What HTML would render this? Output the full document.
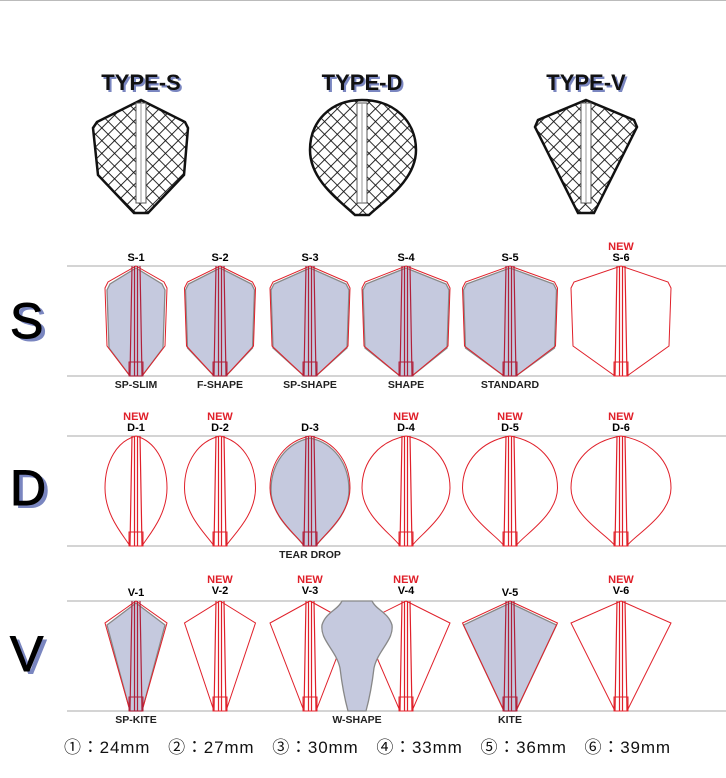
<!DOCTYPE html>
<html><head><meta charset="utf-8"><style>
body{margin:0;background:#fff;width:726px;height:773px;overflow:hidden;font-family:"Liberation Sans",sans-serif}
</style></head><body>
<svg id="s" width="726" height="773" xmlns="http://www.w3.org/2000/svg" font-family="Liberation Sans, sans-serif">
<defs>
<pattern id="hx" width="9" height="9" patternUnits="userSpaceOnUse" patternTransform="rotate(45)">
<rect width="9" height="9" fill="#fff"/><path d="M0 0H9M0 0V9" stroke="#111" stroke-width="1.8"/></pattern>
</defs>
<line x1="0" y1="0.5" x2="726" y2="0.5" stroke="#bbb"/>
<g id="g"></g>
</svg>
<script>
const g=document.getElementById('g');let h='';
const cx=[136,220,310,406,510,621],W=[62,71,80,88,95,100];
function shaft(c,t,b,f){let col=f?'#b0203a':'#e0202a';return `<path d="M${c-4} ${t}L${c-6} ${b}M${c+4} ${t}L${c+6} ${b}M${c-1.5} ${t}V${b}M${c+1.5} ${t}V${b}" stroke="${col}" stroke-width="1.2" fill="none"/><rect x="${c-7}" y="${b-14}" width="14" height="14" fill="none" stroke="${col}" stroke-width="1"/>`}
function sP(c,w,t,b){let x=w/2;return `M${c} ${t}L${c+x-3} ${t+16}L${c+x} ${t+22}L${c+x-2} ${t+80}L${c+6} ${b}L${c-6} ${b}L${c-x+2} ${t+80}L${c-x} ${t+22}L${c-x+3} ${t+16}Z`}
function dP(c,w,t,b){let x=w/2;return `M${c} ${t}C${c+x*0.6} ${t+5} ${c+x} ${t+25} ${c+x} ${t+52}C${c+x} ${t+80} ${c+12} ${b-10} ${c+6} ${b}L${c-6} ${b}C${c-12} ${b-10} ${c-x} ${t+80} ${c-x} ${t+52}C${c-x} ${t+25} ${c-x*0.6} ${t+5} ${c} ${t}Z`}
function vP(c,w,t,b){let x=w/2;return `M${c} ${t}L${c+x} ${t+22}L${c+6} ${b}L${c-6} ${b}L${c-x} ${t+22}Z`}
const rows=[{t:266,b:376,f:sP,k:'S',lab:['S-1','S-2','S-3','S-4','S-5','S-6'],nw:[0,0,0,0,0,1],nm:['SP-SLIM','F-SHAPE','SP-SHAPE','SHAPE','STANDARD',''],fill:[1,1,1,1,1,0],L:325},
{t:436,b:546,f:dP,k:'D',lab:['D-1','D-2','D-3','D-4','D-5','D-6'],nw:[1,1,0,1,1,1],nm:['','','TEAR DROP','','',''],fill:[0,0,1,0,0,0],L:492},
{t:601,b:711,f:vP,k:'V',lab:['V-1','V-2','V-3','V-4','V-5','V-6'],nw:[0,1,1,1,0,1],nm:['SP-KITE','','W-SHAPE','','KITE',''],fill:[1,0,0,0,1,0],L:658}];
rows.forEach((r,ri)=>{
h+=`<line x1="67" y1="${r.t}" x2="726" y2="${r.t}" stroke="#aaa"/><line x1="67" y1="${r.b}" x2="726" y2="${r.b}" stroke="#aaa"/>`;
h+=`<text x="14" y="${r.L+16}" font-size="50" fill="#7a86c0">${r.k}</text><text x="10" y="${r.L+13}" font-size="50" fill="#000" stroke="#000" stroke-width="1">${r.k}</text>`;
cx.forEach((c,i)=>{
 if(r.fill[i]){let sw=i==0?W[i]-4:W[i]-2;h+=`<path d="${r.f(c,sw,r.t+2,r.b)}" fill="#c5c9de" stroke="#888" stroke-width="1.3"/>`}
 h+=`<path d="${r.f(c,W[i],r.t,r.b)}" fill="none" stroke="#e0202a" stroke-width="1"/>`;
 h+=shaft(c,r.t,r.b,r.fill[i]);
 let ly=r.t-5;if(ri==2&&r.nw[i])ly=r.t-7;
 h+=`<text x="${c}" y="${ly}" font-size="11" font-weight="bold" text-anchor="middle">${r.lab[i]}</text>`;
 if(r.nw[i])h+=`<text x="${c}" y="${ly-11}" font-size="11" font-weight="bold" fill="#e0202a" text-anchor="middle">NEW</text>`;
 if(r.nm[i]){let nx=c;if(ri==2&&i==2)nx=357;h+=`<text x="${nx}" y="${r.b+12}" font-size="10.5" font-weight="bold" fill="#222" text-anchor="middle">${r.nm[i]}</text>`}
});});
h+=`<path d="M342 601L372 601C376 610 388 612 392 625C394 640 378 650 374 668C372 685 369 700 366 711L348 711C345 700 342 685 340 668C336 650 320 640 322 625C326 612 338 610 342 601Z" fill="#c5c9de" stroke="#888" stroke-width="1.3"/>`;
function icon(c,path,title){
 h+=`<text x="${c+2}" y="${92}" font-size="22" font-weight="bold" fill="#7a86c0" text-anchor="middle">${title}</text>`;
 h+=`<text x="${c}" y="${90}" font-size="22" font-weight="bold" fill="#111" text-anchor="middle">${title}</text>`;
 h+=`<path d="${path}" fill="url(#hx)" stroke="#111" stroke-width="2.5"/>`;
 h+=`<rect x="${c-5}" y="103" width="10" height="100" fill="#fff" stroke="#555" stroke-width="1"/><line x1="${c}" y1="103" x2="${c}" y2="203" stroke="#999"/>`;
}
icon(141,"M141 100L185 122L188 128L184 175L148 213L134 213L98 175L93 128L97 122Z","TYPE-S");
icon(362,"M362 100C395 100 416 122 416 150C416 180 385 200 369 215L355 215C339 200 310 180 310 150C310 122 330 100 362 100Z","TYPE-D");
icon(586,"M586 100L634 120L637 127L594 213L578 213L535 127L538 120Z","TYPE-V");
h+=`<text x="64" y="753" font-size="17" fill="#111" font-family="Liberation Sans, Noto Sans CJK JP, sans-serif" textLength="606">①：24mm　②：27mm　③：30mm　④：33mm　⑤：36mm　⑥：39mm</text>`;
g.innerHTML=h;
</script>
</body></html>
